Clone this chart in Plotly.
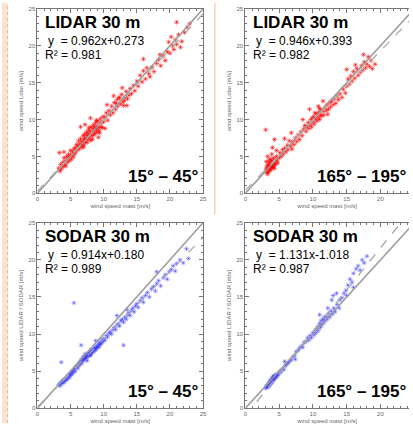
import plotly.graph_objects as go

W, H = 413, 426

# ---- data: wind speed mast (x) vs. remote sensing (y) [m/s] ----
lidar_a = [
    (3.2,3.4),(3.4,3.0),(3.5,3.9),(3.6,3.3),(3.8,4.2),(3.9,3.6),(4.0,4.8),(4.1,3.9),(4.2,4.4),(4.3,3.7),
    (4.4,5.0),(4.5,4.2),(4.6,4.7),(4.7,5.3),(4.8,4.4),(4.9,5.0),(5.0,5.8),(5.1,4.6),(5.2,5.2),(5.3,5.6),
    (5.4,4.9),(5.5,6.0),(3.3,5.5),(4.0,5.6),(5.6,5.3),(5.7,6.2),(5.8,5.6),(5.9,6.6),(6.0,5.9),(6.1,6.4),
    (6.2,7.1),(6.3,6.0),(6.4,6.7),(6.5,7.4),(6.6,6.3),(6.7,7.0),(6.8,6.6),(6.9,7.8),(7.0,7.2),(7.0,6.5),
    (7.1,8.0),(7.2,6.9),(7.3,7.5),(7.4,8.3),(7.5,6.9),(7.5,7.8),(7.6,7.3),(7.7,8.6),(7.8,7.6),(7.9,8.0),
    (8.0,7.2),(8.0,8.4),(8.1,9.0),(8.2,7.8),(8.3,8.2),(8.4,8.8),(8.5,7.9),(8.5,9.3),(8.6,8.5),(8.7,8.1),
    (8.8,9.6),(8.9,8.7),(9.0,8.3),(9.0,9.1),(9.1,9.8),(9.2,8.9),(9.3,8.5),(9.4,9.4),(9.5,10.1),(9.6,9.0),
    (9.7,9.6),(9.8,8.9),(9.9,10.4),(10.0,9.7),(6.5,9.0),(7.2,9.3),(8.0,10.2),(9.2,7.6),(10.2,8.8),
    (7.1,7.4),(7.8,8.9),(8.3,7.3),(8.9,9.9),(6.9,6.2),(7.6,8.1),(8.6,9.0),(9.4,8.2),
    (10.2,10.3),(10.4,10.9),(10.6,9.9),(10.8,11.2),(11.0,10.6),(11.2,11.8),(11.4,10.9),(11.6,12.3),
    (11.8,11.4),(12.0,12.7),(12.1,11.8),(12.3,13.0),(12.5,12.1),(12.7,13.4),(12.9,12.4),(13.0,11.9),
    (13.2,13.0),(13.4,13.8),(13.6,12.8),(13.8,13.3),(14.0,14.2),(14.2,13.5),(14.5,14.6),(14.7,13.9),
    (15.0,15.2),(11.5,13.2),(12.8,14.3),(13.5,11.9),(10.5,12.0),(11.9,12.2),(12.4,12.9),(13.1,12.6),
    (15.2,14.5),(15.5,16.0),(15.8,15.1),(16.0,16.6),(16.3,15.5),(16.5,17.0),(16.8,16.2),(17.0,15.8),
    (17.3,17.1),(17.6,16.5),(18.0,17.6),(18.3,18.1),(18.6,17.3),(19.0,18.6),(19.3,18.0),(19.6,19.2),
    (19.8,20.5),(20.0,19.0),(20.2,21.2),(20.4,20.0),(20.6,19.5),(20.8,20.8),(21.0,20.2),(21.3,21.5),
    (21.6,19.8),(21.8,20.6),(22.2,21.8),(22.6,22.5),(23.0,23.0),(21.0,23.2),(18.5,18.8),(16.0,18.2),
]
lidar_b = [
    (3.0,3.0),(3.1,3.4),(3.2,2.8),(3.2,3.7),(3.3,3.2),(3.4,3.9),(3.4,2.9),(3.5,3.5),(3.5,4.2),(3.6,3.1),
    (3.6,3.8),(3.7,4.5),(3.7,3.4),(3.8,4.0),(3.8,3.2),(3.9,3.7),(3.9,4.4),(4.0,3.5),(4.0,4.1),(4.1,4.8),
    (4.1,3.8),(4.2,4.3),(4.2,3.6),(4.3,4.0),(4.4,4.6),(4.4,3.9),(4.5,4.3),(4.6,5.0),(4.7,4.5),(4.8,4.1),
    (3.0,8.6),(3.3,5.0),(4.0,6.2),(4.6,5.8),(3.1,4.3),(3.9,5.3),(3.3,2.6),(3.6,4.6),(4.3,3.4),(3.8,3.6),
    (5.0,4.8),(5.1,5.5),(5.3,5.0),(5.5,5.9),(5.6,5.3),(5.8,6.1),(6.0,5.6),(6.2,6.5),(6.3,5.9),(6.5,7.1),
    (6.7,6.4),(6.9,6.0),(7.0,7.0),(7.2,6.6),(7.4,7.5),(7.6,7.0),(7.8,7.9),(8.0,7.3),(5.8,7.4),(4.3,7.3),
    (6.8,8.2),
    (8.2,8.3),(8.4,7.8),(8.6,8.7),(8.8,9.2),(9.0,8.4),(9.1,9.0),(9.3,9.6),(9.4,8.8),(9.6,9.3),(9.7,10.0),
    (9.8,9.0),(10.0,9.7),(10.1,10.4),(10.2,9.4),(10.4,10.1),(10.5,10.8),(10.6,9.8),(10.8,10.3),(10.9,11.0),
    (11.0,10.0),(11.1,10.6),(11.2,11.3),(11.3,10.5),(11.5,11.1),(11.6,10.6),(11.8,11.6),(12.0,11.2),
    (12.1,12.0),(12.3,11.4),(12.5,12.3),(12.6,11.7),(12.8,12.5),(13.0,12.0),(9.5,11.4),(10.8,11.8),
    (11.5,12.5),(12.2,10.7),(8.5,10.0),(10.3,10.9),(11.0,11.5),(9.9,10.2),
    (13.2,12.8),(13.4,12.2),(13.6,13.2),(13.8,12.7),(14.0,13.5),(14.3,13.0),(14.5,14.1),(14.8,13.6),
    (15.0,14.5),(15.2,15.5),(15.4,14.8),(15.6,15.9),(15.8,15.2),(16.0,16.5),(16.2,15.6),(16.5,16.9),
    (16.7,16.0),(17.0,16.4),(17.2,17.3),(17.4,16.7),(17.6,17.8),(17.8,17.0),(18.0,17.5),(18.2,18.5),
    (18.4,17.2),(18.6,18.0),(18.8,16.9),(19.2,17.5),(17.5,18.8),(15.0,16.8),(16.3,17.4),
]
sodar_a = [
    (3.2,3.2),(3.4,3.0),(3.5,3.5),(3.6,3.3),(3.8,3.7),(3.9,3.4),(4.0,3.9),(4.1,3.6),(4.2,4.0),(4.3,3.8),
    (4.4,4.2),(4.5,3.9),(4.6,4.3),(4.7,4.5),(4.8,4.1),(4.9,4.6),(5.0,4.4),(5.1,4.9),(5.2,4.6),(5.3,5.1),
    (5.4,4.8),(3.6,6.2),(5.5,14.2),
    (5.6,5.3),(5.7,5.0),(5.8,5.6),(6.0,5.7),(6.1,5.4),(6.2,6.0),(6.3,5.8),(6.4,6.3),(6.5,6.0),(6.6,6.5),
    (6.7,6.1),(6.8,6.7),(6.9,6.4),(7.0,6.6),(7.1,7.0),(7.2,6.7),(7.3,7.1),(7.4,6.8),(7.5,7.3),(7.6,7.0),
    (7.7,7.4),(7.8,7.1),(7.9,7.5),(8.0,7.6),(8.1,7.3),(8.2,7.8),(8.3,7.5),(8.4,7.9),(8.5,7.7),(8.6,8.1),
    (8.7,7.8),(8.8,8.2),(8.9,8.0),(9.0,8.4),(9.1,8.2),(9.2,8.6),(9.3,8.3),(9.4,8.8),(9.5,8.6),(9.6,9.0),
    (9.7,8.8),(9.8,9.2),(9.9,9.0),(10.0,9.4),(6.6,8.5),(7.5,6.4),(8.8,9.1),(7.2,7.3),(8.0,7.1),(6.9,6.9),
    (10.2,9.2),(10.4,9.8),(10.6,9.6),(10.8,10.1),(11.0,10.3),(11.2,10.0),(11.4,10.6),(11.6,10.9),
    (11.8,10.6),(12.0,11.2),(12.2,11.4),(12.4,11.1),(12.6,11.8),(12.8,12.0),(13.0,11.6),(13.0,8.5),
    (13.2,12.3),(13.4,12.0),(13.6,12.6),(13.8,12.9),(14.0,12.5),(14.2,13.2),(14.4,13.5),(14.6,13.0),
    (14.8,13.8),(15.0,14.1),(12.0,12.5),(13.5,13.3),
    (15.2,13.6),(15.5,14.5),(15.8,14.9),(16.0,14.3),(16.3,15.2),(16.6,15.6),(16.9,15.0),(17.2,16.1),
    (17.5,16.4),(17.8,15.8),(18.0,16.8),(18.3,17.2),(18.6,16.5),(19.0,17.6),(19.3,18.0),(19.6,17.4),
    (19.9,18.4),(20.2,18.7),(20.5,19.2),(20.8,18.5),(21.0,19.5),(21.5,20.0),(22.0,19.6),(22.5,21.5),
    (22.8,20.2),(18.0,18.4),
]
sodar_b = [
    (3.0,2.7),(3.1,3.0),(3.2,2.8),(3.3,3.2),(3.4,2.9),(3.5,3.4),(3.5,3.0),(3.6,3.6),(3.7,3.2),(3.7,3.8),
    (3.8,3.4),(3.9,3.9),(3.9,3.5),(4.0,4.1),(4.0,3.6),(4.1,3.8),(4.1,4.3),(4.2,4.0),(4.3,4.4),(4.3,3.9),
    (4.4,4.2),(4.5,4.5),(4.6,4.2),(4.7,4.6),(4.8,4.4),(5.0,4.7),(5.1,5.0),(5.3,4.9),(5.5,5.3),
    (5.7,5.2),(5.9,5.7),(6.1,5.9),(6.3,6.1),(6.5,6.3),(6.8,6.5),(7.0,6.9),(7.3,7.1),(7.5,7.6),(7.8,7.8),
    (8.0,8.1),(8.3,8.4),(8.5,8.2),(8.7,8.9),(9.0,9.0),(9.2,9.5),(5.8,6.3),(7.4,6.6),
    (9.4,9.2),(9.6,9.8),(9.8,9.5),(10.0,10.2),(10.2,9.9),(10.4,10.6),(10.5,10.2),(10.7,11.0),(10.8,10.5),
    (11.0,11.4),(11.1,10.9),(11.2,11.8),(11.3,11.2),(11.5,12.0),(11.6,11.5),(11.7,12.3),(11.8,11.8),
    (12.0,12.4),(12.1,12.0),(12.3,12.8),(12.5,12.3),(12.7,13.1),(12.9,12.7),(13.1,13.5),(13.3,13.0),
    (13.6,14.0),(13.9,13.5),(11.0,12.6),(12.2,13.5),(12.8,14.6),(13.0,15.2),(13.5,15.5),(14.0,14.6),
    (14.3,14.9),(14.6,15.5),(14.9,15.9),(15.2,16.6),(15.5,17.4),(15.8,17.0),(16.0,18.2),(16.4,18.8),
    (16.7,19.2),(17.0,18.6),(17.3,20.0),(17.6,19.6),(18.0,20.5),(16.0,16.3),(15.0,15.2),
]

# regression results per panel: (slope, intercept, R^2)
fits = [(0.962, 0.273, 0.981), (0.946, 0.393, 0.982),
        (0.914, 0.180, 0.989), (1.131, -1.018, 0.987)]
titles = ["LIDAR 30 m", "LIDAR 30 m", "SODAR 30 m", "SODAR 30 m"]
sectors = ["15° – 45°", "165° – 195°", "15° – 45°", "165° – 195°"]
ylabels = ["wind speed Lidar [m/s]", "wind speed Lidar [m/s]",
           "wind speed LIDAR / SODAR [m/s]", "wind speed LIDAR / SODAR [m/s]"]
xlabel = "wind speed mast [m/s]"
tick_vals = [0, 5, 10, 15, 20, 25]
panels = [lidar_a, lidar_b, sodar_a, sodar_b]
colors = ["rgba(255,0,0,0.55)", "rgba(255,0,0,0.55)",
          "rgba(40,40,255,0.40)", "rgba(40,40,255,0.40)"]

# panel boxes in pixels: (left, right, top, bottom, x-range max)
boxes = [
    (36, 204, 6, 193, 25),
    (247, 413, 6, 193, 25 * (413 - 247) / 171.25),
    (36, 204, 223, 411, 25),
    (247, 413, 223, 411, 25 * (413 - 247) / 171.25),
]

def px(x):
    return x / W

def py(y):
    return 1 - y / H

FONT = "Liberation Sans, Arial, sans-serif"
AX = "#777777"
SMALL = dict(size=6, color="#666666", family=FONT)
BIG = dict(size=17, color="black", family=FONT, weight="bold")
MID = dict(size=12, color="black", family=FONT)

fig = go.Figure()
layout = dict(width=W, height=H, margin=dict(l=0, r=0, t=0, b=0),
              paper_bgcolor="white", plot_bgcolor="white", showlegend=False,
              font=dict(family=FONT))
annotations = []
for i, (pts, (a, b, r2), box) in enumerate(zip(panels, fits, boxes)):
    n = i + 1
    xa = "x" if n == 1 else f"x{n}"
    ya = "y" if n == 1 else f"y{n}"
    left, right, top, bottom, xmax = box
    xs = [p[0] for p in pts]
    ys = [p[1] for p in pts]
    fig.add_trace(go.Scatter(x=xs, y=ys, mode="markers", xaxis=xa, yaxis=ya,
                             marker=dict(symbol="asterisk-open", size=4, color=colors[i],
                                         line=dict(width=1, color=colors[i]))))
    # 1:1 line and regression line
    fig.add_trace(go.Scatter(x=[0, 25], y=[0, 25], mode="lines", xaxis=xa, yaxis=ya,
                             line=dict(color="#9a9a9a", width=1.5)))
    fig.add_trace(go.Scatter(x=[0, 25], y=[b, a * 25 + b], mode="lines", xaxis=xa, yaxis=ya,
                             line=dict(color="#aaaaaa", width=1.3, dash="dash")))
    common = dict(showline=True, linecolor=AX, linewidth=1, ticks="inside", ticklen=4,
                  tickcolor=AX, tickvals=tick_vals, showgrid=False, zeroline=False,
                  tickfont=SMALL,
                  minor=dict(ticks="inside", ticklen=2, dtick=1, tickcolor=AX, showgrid=False))
    layout["xaxis" if n == 1 else f"xaxis{n}"] = dict(
        common, domain=[px(left), px(right)], range=[0, xmax], anchor=ya, mirror="ticks",
        title=dict(text=xlabel, font=SMALL, standoff=2))
    layout["yaxis" if n == 1 else f"yaxis{n}"] = dict(
        common, domain=[py(bottom), py(top)], range=[0, 25], anchor=xa,
        mirror="ticks" if right < W else False,
        title=dict(text=ylabels[i], font=SMALL, standoff=4))

    # panel texts
    annotations.append(dict(x=px(left + 6), y=py(top + 14), xref="paper", yref="paper",
                            text=titles[i], showarrow=False, xanchor="left",
                            yanchor="middle", font=BIG))
    sign = "+" if b >= 0 else "-"
    annotations.append(dict(x=px(left + 9), y=py(top + 33), xref="paper", yref="paper",
                            text=f"y  = {a:.3f}x{sign}{abs(b):.3f}", showarrow=False,
                            xanchor="left", yanchor="middle", font=MID))
    annotations.append(dict(x=px(left + 6), y=py(top + 47), xref="paper", yref="paper",
                            text=f"R² = {r2:.3f}", showarrow=False,
                            xanchor="left", yanchor="middle", font=MID))
    sx = left + 166 if right < W else 412
    annotations.append(dict(x=px(sx), y=py(bottom - 17), xref="paper", yref="paper",
                            text=sectors[i], showarrow=False, xanchor="right",
                            yanchor="middle", font=BIG))

layout["annotations"] = annotations
layout["shapes"] = [
    dict(type="rect", xref="paper", yref="paper", x0=0, x1=px(6), y0=0, y1=1,
         fillcolor="#fde2d2", line=dict(width=0), layer="below"),
    dict(type="line", xref="paper", yref="paper", x0=px(5.5), x1=px(5.5), y0=0, y1=1,
         line=dict(color="#f6b08e", width=1, dash="dot")),
    dict(type="line", xref="paper", yref="paper", x0=px(216), x1=px(216), y0=py(214), y1=1,
         line=dict(color="#f7b99c", width=1)),
]
fig.update_layout(**layout)
fig.write_html("out.html")
